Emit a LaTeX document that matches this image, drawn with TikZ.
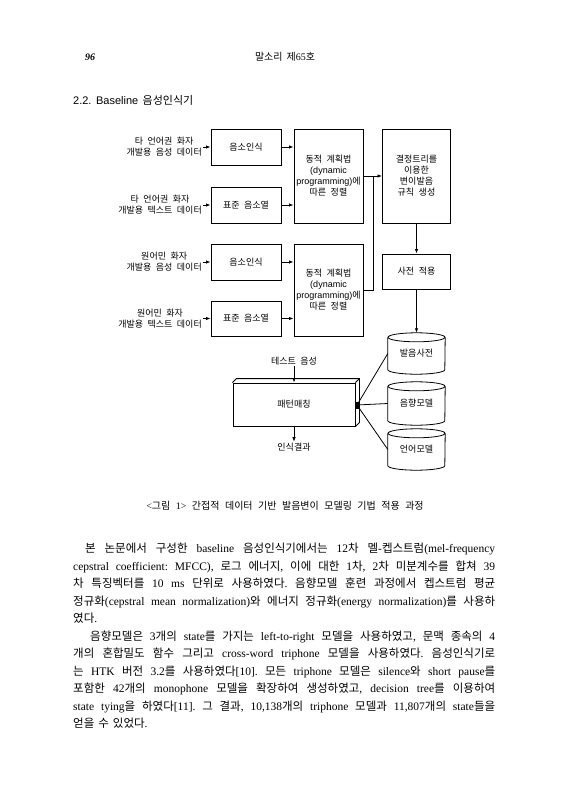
\documentclass[tikz,border=0pt]{standalone}
\usepackage{fontspec}
\usetikzlibrary{arrows.meta}
\newfontfamily\krfont{Noto Sans CJK KR}
\newfontfamily\serifL{Liberation Serif}
\newfontfamily\sansL{Liberation Sans}
\def\latin{\serifL}
\XeTeXinterchartokenstate=1
\chardef\HCls=7
\newcount\hcnt
\hcnt="AC00
\loop
  \XeTeXcharclass\hcnt=\HCls
  \ifnum\hcnt<"D7A3 \advance\hcnt by 1
\repeat
\XeTeXinterchartoks 0 \HCls = {\krfont}
\XeTeXinterchartoks 4095 \HCls = {\krfont}
\XeTeXinterchartoks \HCls 0 = {\latin}
\XeTeXinterchartoks 4095 0 = {\latin}
\frenchspacing

\newcommand\figfont{\def\latin{\sansL}\fontsize{9}{11}\selectfont\sansL\spaceskip=4.5pt plus 1pt minus 0.5pt\relax}
\newcommand\hdfont{\def\latin{\serifL}\fontsize{10}{12}\selectfont\serifL\spaceskip=4pt plus 1pt\relax}
\newcommand\secfont{\def\latin{\sansL}\fontsize{11}{13}\selectfont\sansL\spaceskip=4.5pt plus 1pt\relax}
\newcommand\capfont{\def\latin{\serifL}\fontsize{10}{12}\selectfont\serifL\spaceskip=5.5pt plus 1pt\relax}
\newcommand\bodyfont{\def\latin{\serifL}\fontsize{11.5}{17.5}\selectfont\serifL}
\newcommand\bodyset{\frenchspacing\spaceskip=4pt plus 8pt minus 2pt\parindent=0pt\tolerance=10000\hyphenpenalty=10000\exhyphenpenalty=10000\relax}

\newcommand\cylout[1]{%
  \draw[ln] ([yshift=-4.5pt]#1.north) ellipse [x radius=28.5pt, y radius=4.5pt];
  \draw[ln] ([yshift=-4.5pt]#1.north west) -- ([yshift=4.5pt]#1.south west)
    arc[start angle=180, end angle=360, x radius=28.5pt, y radius=4.5pt]
    -- ([yshift=-4.5pt]#1.north east);
}

\tikzset{
  box/.style={draw, line width=0.9pt, inner sep=1pt, align=center, font=\figfont},
  lbl/.style={inner sep=1pt, align=center, font=\figfont},
  cyl/.style={inner sep=0pt, minimum width=57pt, font=\figfont},
  arr/.style={-{Latex[length=4.5pt,width=3.5pt]}, line width=0.8pt},
  ln/.style={line width=0.8pt},
}

\begin{document}
\begin{tikzpicture}[x=1pt,y=-1pt]
\fill[white] (0,0) rectangle (569,800);
\useasboundingbox (0,0) rectangle (569,800);

% header
\node[font=\hdfont\bfseries\itshape, inner sep=0pt] (pg) at (90,57) {96};
\node[font=\hdfont, inner sep=0pt] (jt) at (285,57) {말소리 제65호};
\node[font=\secfont, anchor=west, inner sep=0pt] (sec) at (73,100) {2.2. Baseline 음성인식기};

% left boxes
\node[box, minimum width=70pt, minimum height=36pt] (b1) at (246,147) {음소인식};
\node[box, minimum width=70pt, minimum height=36pt] (b2) at (246,205) {표준 음소열};
\node[box, minimum width=70pt, minimum height=36pt] (b3) at (246,262) {음소인식};
\node[box, minimum width=70pt, minimum height=35pt] (b4) at (246,318.5) {표준 음소열};

% input labels
\node[lbl, anchor=east] (l1) at (203,147) {타 언어권 화자\\개발용 음성 데이터};
\node[lbl, anchor=east] (l2) at (203,205) {타 언어권 화자\\개발용 텍스트 데이터};
\node[lbl, anchor=east] (l3) at (203,262) {원어민 화자\\개발용 음성 데이터};
\node[lbl, anchor=east] (l4) at (203,318.5) {원어민 화자\\개발용 텍스트 데이터};

% DP boxes
\node[box, minimum width=69pt, minimum height=94pt] (dp1) at (328.5,176) {동적 계획법\\(dynamic\\programming)에\\따른 정렬};
\node[box, minimum width=69pt, minimum height=92pt] (dp2) at (328.5,290) {동적 계획법\\(dynamic\\programming)에\\따른 정렬};

% right column
\node[box, minimum width=68pt, minimum height=94pt] (dec) at (416.5,176) {결정트리를\\이용한\\변이발음\\규칙 생성};
\node[box, minimum width=68pt, minimum height=35pt] (dict) at (416.5,271.5) {사전 적용};

% cylinders
\node[cyl, minimum height=41pt] (c1) at (416.5,353.5) {발음사전};
\node[cyl, minimum height=43pt] (c2) at (416.5,403.5) {음향모델};
\node[cyl, minimum height=41pt] (c3) at (416.5,449.5) {언어모델};
\cylout{c1}
\cylout{c2}
\cylout{c3}

% pattern matching
\node[box, minimum width=122pt, minimum height=43pt] (pm) at (294,404.5) {패턴매칭};
\draw[line width=0.9pt] (pm.north west) -- ++(4pt,4pt) -- ([shift={(4pt,4pt)}]pm.north east)
  -- ([shift={(4pt,4pt)}]pm.south east) -- (pm.south east);
\draw[line width=0.9pt] (pm.north east) -- ++(4pt,4pt);
\node[fill, inner sep=0pt, minimum width=3pt, minimum height=7pt] (knot) at (357,405) {};
\node[lbl] (tin) at (294,361) {테스트 음성};
\node[lbl] (res) at (294,447) {인식결과};

% connectors
\foreach \i in {1,2,3,4} {
  \draw[arr] (l\i.east) -- (b\i.west);
}
\draw[arr] (b1.east) -- (b1.east -| dp1.west);
\draw[arr] (b2.east) -- (b2.east -| dp1.west);
\draw[arr] (b3.east) -- (b3.east -| dp2.west);
\draw[arr] (b4.east) -- (b4.east -| dp2.west);
\coordinate (jn) at (373,176);
\draw[arr] (dp1.east) -- (dec.west);
\draw[ln] (dp2.east) -| (jn);
\draw[arr] (dec.south) -- (dict.north);
\draw[arr] (dict.south) -- (c1.north);
\draw[arr] (tin.south) -- (pm.north);
\draw[arr] (pm.south) -- (res.north);
\draw[ln] (knot.center) -- (c1.west);
\draw[ln] (knot.center) -- (c2.west);
\draw[ln] (knot.center) -- (c3.west);

% caption
\node[font=\capfont, inner sep=0pt] (cap) at (285,506) {<그림 1> 간접적 데이터 기반 발음변이 모델링 기법 적용 과정};

% body text
\node[anchor=north west, text width=422pt, align=justify, inner sep=0pt, font=\bodyfont] (body) at (73,543) {\bodyset
\hspace*{12pt}본 논문에서 구성한 baseline 음성인식기에서는 12차 멜-켑스트럼(mel-frequency\linebreak
cepstral coefficient: MFCC), 로그 에너지, 이에 대한 1차, 2차 미분계수를 합쳐 39\linebreak{}차 특징벡터를 10 ms 단위로 사용하였다. 음향모델 훈련 과정에서 켑스트럼 평균\linebreak
정규화(cepstral mean normalization)와 에너지 정규화(energy normalization)를 사용하\linebreak{}였다.\par
\hspace*{17pt}음향모델은 3개의 state를 가지는 left-to-right 모델을 사용하였고, 문맥 종속의 4\linebreak{}개의 혼합밀도 함수 그리고 cross-word triphone 모델을 사용하였다. 음성인식기로\linebreak{}는 HTK 버전 3.2를 사용하였다[10]. 모든 triphone 모델은 silence와 short pause를\linebreak
포함한 42개의 monophone 모델을 확장하여 생성하였고, decision tree를 이용하여\linebreak
state tying을 하였다[11]. 그 결과, 10,138개의 triphone 모델과 11,807개의 state들을\linebreak
얻을 수 있었다.\par};
\end{tikzpicture}
\end{document}
